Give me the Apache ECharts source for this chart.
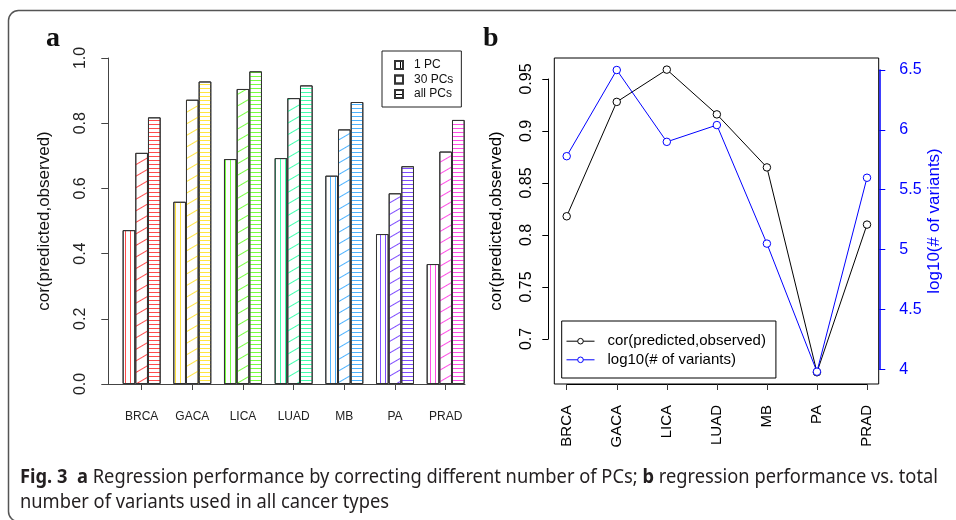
<!DOCTYPE html>
<html><head><meta charset="utf-8">
<script src="https://cdn.jsdelivr.net/npm/echarts@6/dist/echarts.min.js"></script>
<style>html,body{margin:0;padding:0;background:#fff}#c{width:956px;height:520px}</style>
</head><body><div id="c"></div>
<script>
// ---- data ----
const categories = ['BRCA', 'GACA', 'LICA', 'LUAD', 'MB', 'PA', 'PRAD'];
const pc1 = [0.472, 0.559, 0.690, 0.693, 0.639, 0.460, 0.368];
const pc30 = [0.709, 0.872, 0.905, 0.877, 0.781, 0.585, 0.713];
const pcAll = [0.818, 0.928, 0.959, 0.916, 0.865, 0.668, 0.810];
const logVariants = [5.78, 6.50, 5.90, 6.04, 5.05, 3.98, 5.60];
const barSeriesNames = ['1 PC', '30 PCs', 'all PCs'];
const lineSeriesNames = ['cor(predicted,observed)', 'log10(# of variants)'];
const catColors = ['rgba(255,0,0,0.7)', 'rgba(255,219,0,0.75)', 'rgba(73,255,0,0.75)', 'rgba(0,255,146,0.75)', 'rgba(0,146,255,0.7)', 'rgba(73,0,255,0.7)', 'rgba(255,0,219,0.7)'];
const captionLine1 = [['Fig. 3', 'b'], ['  ', 'n'], ['a', 'b'], [' Regression performance by correcting different number of PCs; ', 'n'], ['b', 'b'], [' regression performance vs. total', 'n']];
const captionLine2 = 'number of variants used in all cancer types';

const FONT = '"Liberation Sans", Arial, sans-serif';
const decalV = c => ({symbol: 'rect', symbolSize: 1, color: c, dashArrayX: [1, 4], dashArrayY: [1, 0]});
const decalD = c => ({symbol: 'rect', symbolSize: 1, color: c, dashArrayX: [1, 0], dashArrayY: [1, 9], rotation: -Math.PI / 6});
const decalH = c => ({symbol: 'rect', symbolSize: 1, color: c, dashArrayX: [1, 0], dashArrayY: [1, 3]});
const decals = [decalV, decalD, decalH];
const barVals = [pc1, pc30, pcAll];

function barSeries(k) {
  return {
    type: 'bar', name: barSeriesNames[k], xAxisIndex: 0, yAxisIndex: 0,
    barWidth: 12.67, barGap: '0%', silent: true,
    itemStyle: {color: '#fff', borderColor: '#333', borderWidth: 1, decal: decals[k]('#000')},
    data: barVals[k].map((v, i) => ({value: v, itemStyle: {decal: decals[k](catColors[i])}}))
  };
}

// caption measure
const cv = document.createElement('canvas').getContext('2d');
const CAP_FONT = '"Noto Sans", sans-serif', CAP_SIZE = 19;
function w(t, bold) { cv.font = (bold ? 'bold ' : '') + CAP_SIZE + 'px ' + CAP_FONT; return cv.measureText(t).width; }
let w1 = 0; captionLine1.forEach(p => { w1 += w(p[0], p[1] === 'b'); });
const capScale = 918 / w1;
const cap1Text = captionLine1.map(p => '{' + p[1] + '|' + p[0] + '}').join('');

const chart = echarts.init(document.getElementById('c'), null, {renderer: 'canvas'});
chart.setOption({
  animation: false,
  textStyle: {fontFamily: FONT},
  grid: [
    {left: 116.3, top: 58, width: 354.7, height: 326},
    {left: 108, top: 58, width: 357, height: 326},
    {left: 554.3, top: 58, width: 324.4, height: 326, show: true, borderColor: '#000', borderWidth: 1, backgroundColor: 'transparent'},
    {left: 566.7, top: 79, width: 300.3, height: 260},
    {left: 566.7, top: 70, width: 300.3, height: 299.3},
    {left: 566.7, top: 58, width: 300.3, height: 326}
  ],
  xAxis: [
    {gridIndex: 0, type: 'category', data: categories, axisLine: {show: false},
      axisTick: {show: true, alignWithLabel: true, length: 6, lineStyle: {color: '#444'}},
      axisLabel: {fontSize: 12, color: '#222', margin: 27}},
    {gridIndex: 1, type: 'value', min: 0, max: 1, axisLine: {show: true, lineStyle: {color: '#444'}},
      axisTick: {show: false}, axisLabel: {show: false}, splitLine: {show: false}},
    {gridIndex: 2, type: 'category', data: categories, show: false},
    {gridIndex: 3, type: 'category', data: categories, boundaryGap: false, show: false},
    {gridIndex: 4, type: 'category', data: categories, boundaryGap: false, show: false},
    {gridIndex: 5, type: 'category', data: categories, boundaryGap: false,
      axisLine: {show: true, lineStyle: {color: '#000'}},
      axisTick: {show: true, length: 6, lineStyle: {color: '#333'}},
      axisLabel: {rotate: 90, fontSize: 15, color: '#000', margin: 21}}
  ],
  yAxis: [
    {gridIndex: 0, type: 'value', min: 0, max: 1, interval: 0.2, offset: 8,
      axisLine: {show: true, lineStyle: {color: '#444'}}, axisTick: {show: true, length: 7, lineStyle: {color: '#444'}},
      axisLabel: {rotate: 90, fontSize: 16, color: '#222', margin: 20, formatter: v => v.toFixed(1)},
      splitLine: {show: false},
      name: 'cor(predicted,observed)', nameLocation: 'middle', nameGap: 55, nameRotate: 90,
      nameTextStyle: {fontSize: 17, color: '#111'}},
    {gridIndex: 1, type: 'value', show: false},
    {gridIndex: 2, type: 'value', position: 'left', axisLine: {show: false}, axisTick: {show: false},
      axisLabel: {show: false}, splitLine: {show: false},
      name: 'cor(predicted,observed)', nameLocation: 'middle', nameGap: 49, nameRotate: 90,
      nameTextStyle: {fontSize: 17, color: '#000'}},
    {gridIndex: 2, type: 'value', position: 'right', axisLine: {show: false}, axisTick: {show: false},
      axisLabel: {show: false}, splitLine: {show: false},
      name: 'log10(# of variants)', nameLocation: 'middle', nameGap: 47, nameRotate: 90,
      nameTextStyle: {fontSize: 17, color: '#0000FF'}},
    {gridIndex: 3, type: 'value', min: 0.7, max: 0.95, interval: 0.05, offset: 18.4,
      axisLine: {show: true, lineStyle: {color: '#000'}}, axisTick: {show: true, length: 6, lineStyle: {color: '#000'}},
      axisLabel: {rotate: 90, fontSize: 16, color: '#000', margin: 14}, splitLine: {show: false}},
    {gridIndex: 4, type: 'value', position: 'right', min: 4, max: 6.5, interval: 0.5, offset: 12.3,
      axisLine: {show: true, lineStyle: {color: '#0000FF', width: 1.5}}, axisTick: {show: true, length: 6, lineStyle: {color: '#0000FF'}},
      axisLabel: {fontSize: 16, color: '#0000FF', margin: 20}, splitLine: {show: false}},
    {gridIndex: 5, type: 'value', show: false}
  ],
  legend: [
    {data: barSeriesNames, orient: 'vertical', left: 382, top: 51, itemWidth: 8, itemHeight: 8, itemGap: 2.5,
      padding: [8, 8, 7, 12], borderColor: '#222', borderWidth: 1, selectedMode: false, icon: 'rect',
      textStyle: {fontSize: 12, color: '#111', lineHeight: 12, padding: [0, 0, 0, 6]}},
    {data: lineSeriesNames, orient: 'vertical', left: 561.7, top: 321, itemWidth: 28, itemHeight: 7, itemGap: 2.6,
      padding: [12.2, 10, 10.2, 4.3], borderColor: '#000', borderWidth: 1, selectedMode: false,
      lineStyle: {width: 1}, itemStyle: {borderWidth: 1},
      textStyle: {fontSize: 15, color: '#000', lineHeight: 16, padding: [0, 0, 0, 8]}}
  ],
  series: [
    barSeries(0), barSeries(1), barSeries(2),
    {type: 'line', name: lineSeriesNames[0], xAxisIndex: 3, yAxisIndex: 4, data: pcAll, clip: false,
      color: '#000', lineStyle: {width: 1, color: '#000'}, symbol: 'circle', symbolSize: 7.5,
      itemStyle: {color: '#fff', borderColor: '#000', borderWidth: 1}, silent: true},
    {type: 'line', name: lineSeriesNames[1], xAxisIndex: 4, yAxisIndex: 5, data: logVariants, clip: false,
      color: '#0000FF', lineStyle: {width: 1, color: '#0000FF'}, symbol: 'circle', symbolSize: 7.5,
      itemStyle: {color: '#fff', borderColor: '#0000FF', borderWidth: 1}, silent: true, z: 3}
  ],
  graphic: [
    {type: 'rect', z: -10, shape: {x: 8.5, y: 10.5, width: 1000, height: 511, r: 10}, style: {fill: 'none', stroke: '#555', lineWidth: 1.5}},
    {type: 'text', x: 46, y: 39, style: {text: 'a', font: 'bold 28px "Liberation Serif", serif', fill: '#111', verticalAlign: 'middle'}},
    {type: 'text', x: 483, y: 39, style: {text: 'b', font: 'bold 28px "Liberation Serif", serif', fill: '#111', verticalAlign: 'middle'}},
    {type: 'text', x: 20, y: 478, scaleX: capScale, style: {text: cap1Text, verticalAlign: 'middle', fill: '#231f20',
      font: CAP_SIZE + 'px ' + CAP_FONT,
      rich: {b: {fontWeight: 'bold', fontSize: CAP_SIZE, fontFamily: CAP_FONT, fill: '#231f20'}, n: {fontSize: CAP_SIZE, fontFamily: CAP_FONT, fill: '#231f20'}}}},
    {type: 'text', x: 20, y: 503, scaleX: capScale, style: {text: captionLine2, verticalAlign: 'middle', fill: '#231f20',
      font: CAP_SIZE + 'px ' + CAP_FONT}}
  ]
});
</script></body></html>
